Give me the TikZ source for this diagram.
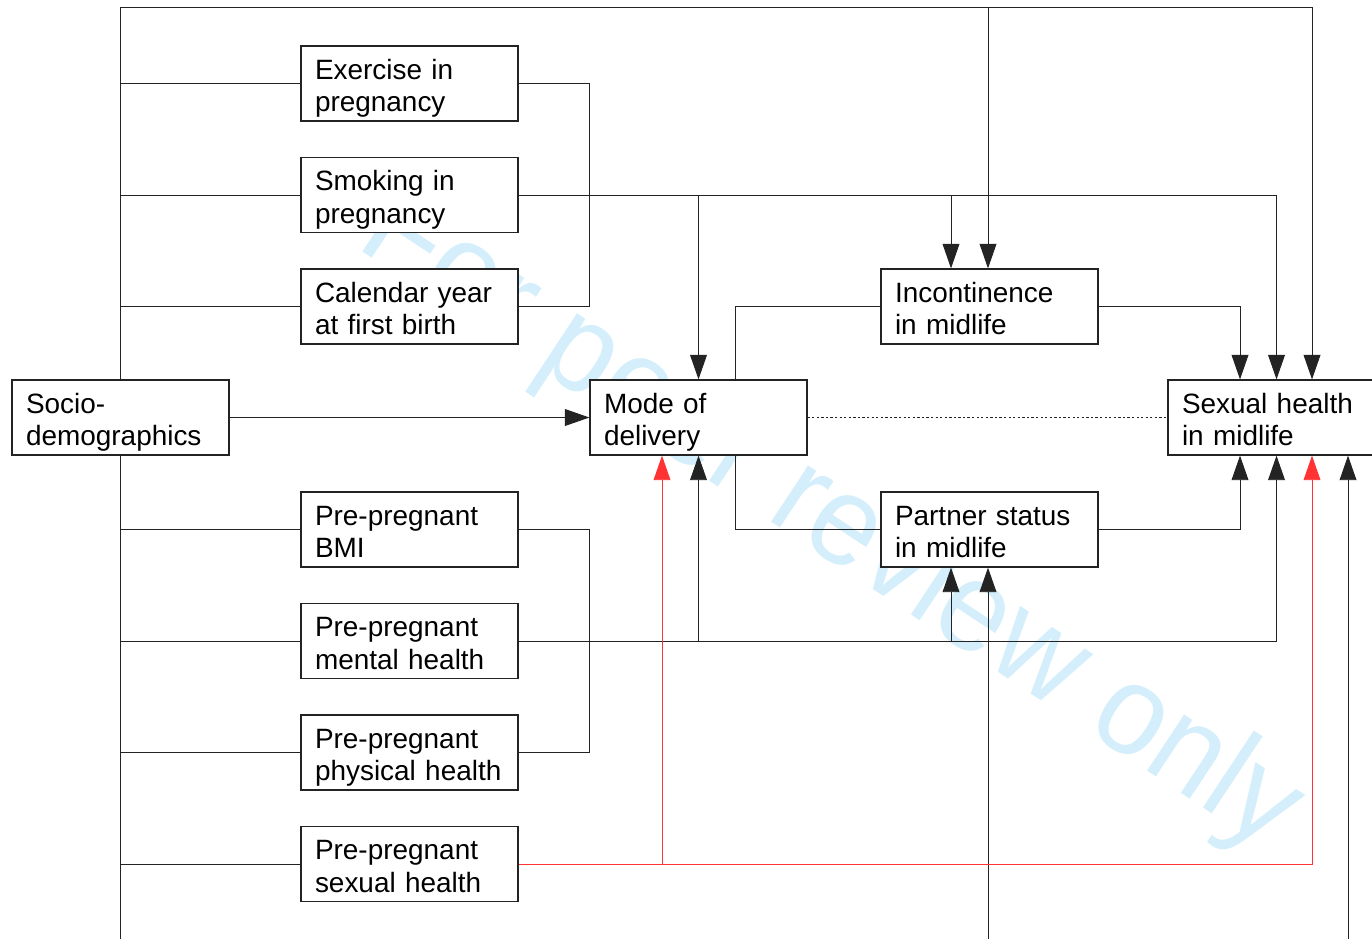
\documentclass[tikz,border=0pt]{standalone}
\usepackage{fontspec}
\setmainfont{Liberation Sans}
\usetikzlibrary{arrows.meta,calc}
\definecolor{wm}{RGB}{212,239,251}
\definecolor{lnc}{RGB}{35,35,35}
\definecolor{redl}{RGB}{255,51,51}
\newcommand\bxt[2]{\rule{0pt}{17pt}#1\\#2\rule[-3.4pt]{0pt}{3.4pt}}
\begin{document}
\begin{tikzpicture}[x=0.02cm,y=-0.02cm,
  box/.style={draw=lnc, line width=0.7pt, fill=white, minimum width=4.34cm,
    minimum height=1.5cm, inner sep=0pt, text width=3.78cm, align=left,
    font=\fontsize{15.9}{18.7}\selectfont},
  conn/.style={draw=lnc, line width=0.55pt},
  arr/.style={conn, -{Triangle[length=14pt,width=9.6pt]}},
  redarr/.style={draw=redl, line width=0.55pt, -{Triangle[length=14pt,width=9.6pt]}},
  wmark/.style={rotate=-33.5, anchor=base west, text=wm, inner sep=0pt,
    font=\fontsize{72.6}{80}\selectfont}]
\useasboundingbox (0,0) rectangle (1372,938);
\clip (0,0) rectangle (1372,938);

% watermark (behind everything)
\node[wmark] (wmk) at (354,246) {\scalebox{0.95}[1]{For peer review only}};

% boxes
\node[box] (exer)   at (409.5, 83.5)  {\bxt{Exercise in}{pregnancy}};
\node[box] (smok)   at (409.5, 195)   {\bxt{Smoking in}{pregnancy}};
\node[box] (cal)    at (409.5, 306.5) {\bxt{Calendar year}{at first birth}};
\node[box] (socio)  at (120.5, 417.5) {\bxt{Socio-}{demographics}};
\node[box] (mode)   at (698.5, 417.5) {\bxt{Mode of}{delivery}};
\node[box] (inc)    at (989.5, 306.5) {\bxt{Incontinence}{in midlife}};
\node[box] (sex)    at (1276.5, 417.5){\bxt{Sexual health}{in midlife}};
\node[box] (part)   at (989.5, 529.5) {\bxt{Partner status}{in midlife}};
\node[box] (bmi)    at (409.5, 529.5) {\bxt{Pre-pregnant}{BMI}};
\node[box] (ment)   at (409.5, 641)   {\bxt{Pre-pregnant}{mental health}};
\node[box] (phys)   at (409.5, 752.5) {\bxt{Pre-pregnant}{physical health}};
\node[box] (psex)   at (409.5, 864)   {\bxt{Pre-pregnant}{sexual health}};

% helper coordinates
\coordinate (topy) at (0,7);
\coordinate (btm) at (0,940);
\coordinate (incA) at ($(inc.north)+(-38.5,0)$);
\coordinate (incB) at ($(inc.north)+(-1.5,0)$);
\coordinate (partA) at ($(part.south)+(-38.5,0)$);
\coordinate (partB) at ($(part.south)+(-1.5,0)$);
\coordinate (sexTA) at ($(sex.north)+(-36.5,0)$);
\coordinate (sexTC) at ($(sex.north)+(35.5,0)$);
\coordinate (sexBA) at ($(sex.south)+(-36.5,0)$);
\coordinate (sexBC) at ($(sex.south)+(35.5,0)$);
\coordinate (sexBD) at ($(sex.south)+(71.5,0)$);
\coordinate (modeTR) at ($(mode.north)+(36.5,0)$);
\coordinate (modeBR) at ($(mode.south)+(36.5,0)$);
\coordinate (modeBL) at ($(mode.south)+(-36.5,0)$);

% spine and top line
\draw[arr] (socio.north) |- (sexTC |- topy) -- (sexTC);
\draw[arr] (incB |- topy) -- (incB);
\draw[conn] (socio.south) -- (socio.south |- btm);

% branches from spine
\foreach \n in {exer,smok,cal,bmi,ment,phys,psex}
  \draw[conn] (\n.west) -- (\n.west -| socio.center);

% upper bracket
\draw[conn] (exer.east) -- (exer.east -| mode.west) |- (cal.east);
% smoking
\draw[arr] (smok.east) -| (sex.north);
\draw[arr] (mode.north |- smok.east) -- (mode.north);
\draw[arr] (incA |- smok.east) -- (incA);

% socio -> mode, dotted mode -- sex
\draw[arr] (socio.east) -- (mode.west);
\draw[draw=lnc, line width=0.5pt, dash pattern=on 1.3pt off 1.3pt] (mode.east) -- (sex.west);

% mode <-> incontinence / partner
\draw[conn] (modeTR) |- (inc.west);
\draw[conn] (modeBR) |- (part.west);
\draw[arr] (inc.east) -| (sexTA);
\draw[arr] (part.east) -| (sexBA);

% lower bracket
\draw[conn] (bmi.east) -- (bmi.east -| mode.west) |- (phys.east);
% mental health
\draw[arr] (ment.east) -| (sex.south);
\draw[arr] (mode.south |- ment.east) -- (mode.south);
\draw[arr] (partA |- ment.east) -- (partA);

% from bottom
\draw[arr] (partB |- btm) -- (partB);
\draw[arr] (sexBD |- btm) -- (sexBD);

% red paths
\draw[redarr] (psex.east) -| (sexBC);
\draw[redarr] (modeBL |- psex.east) -- (modeBL);
\end{tikzpicture}
\end{document}
